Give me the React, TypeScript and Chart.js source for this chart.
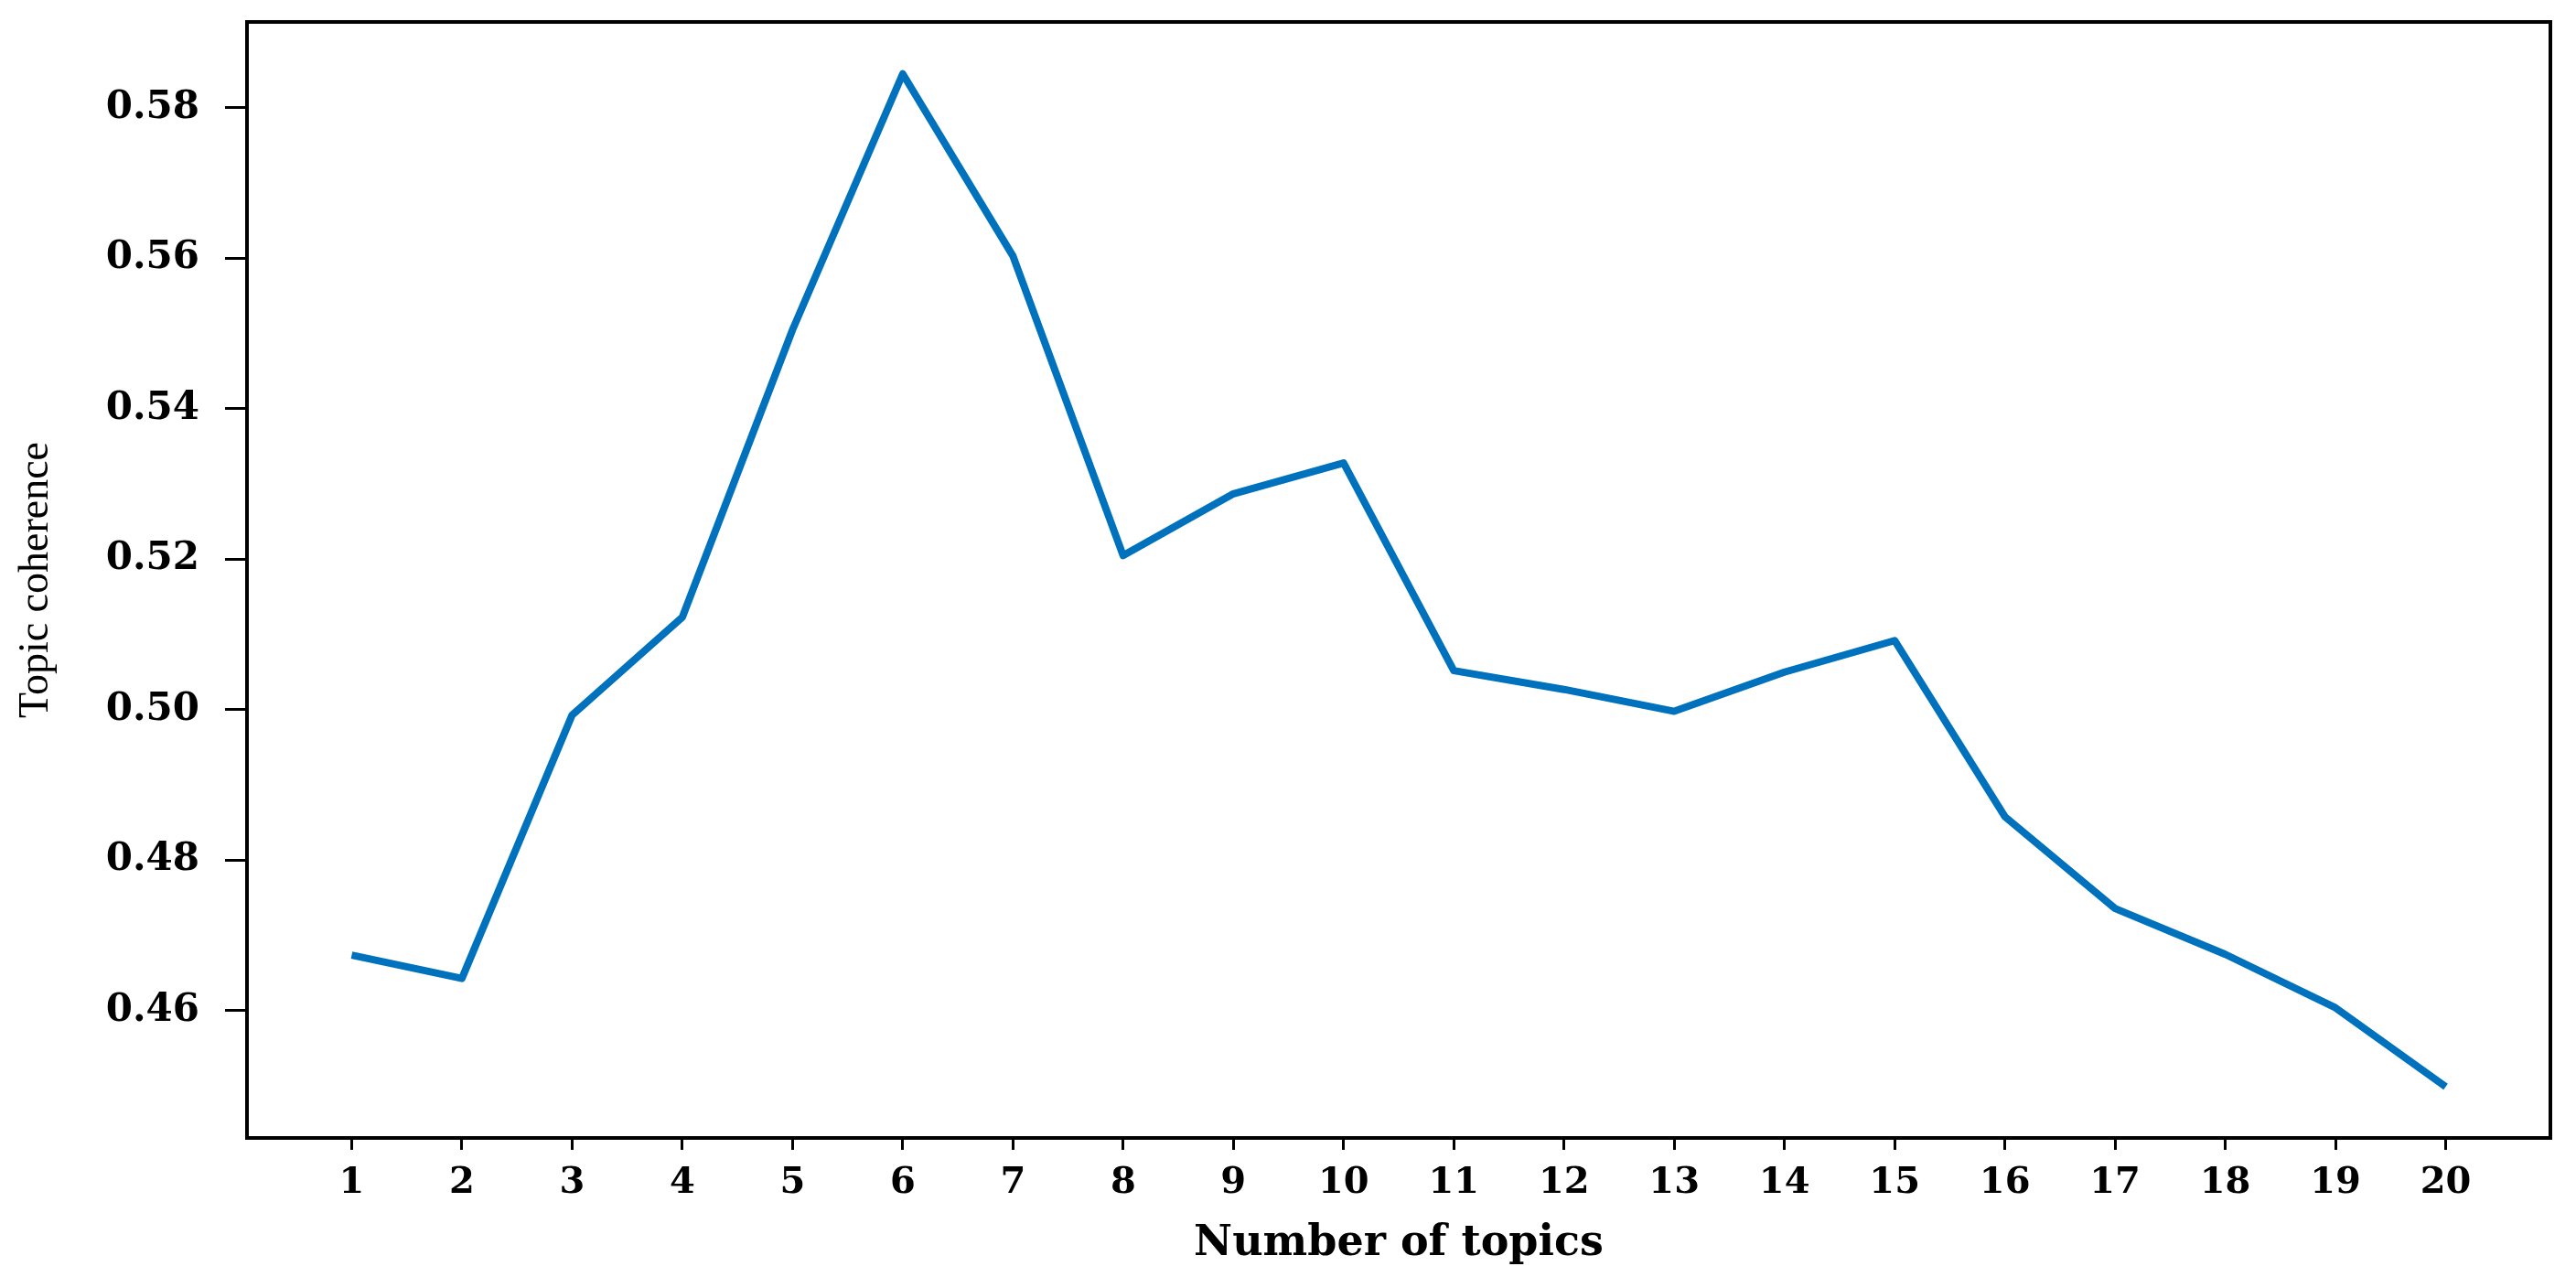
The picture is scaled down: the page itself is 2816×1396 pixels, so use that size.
import React, { useEffect, useRef } from "react";
import { Chart, registerables } from "chart.js";

Chart.register(...registerables);

const topics = [1, 2, 3, 4, 5, 6, 7, 8, 9, 10, 11, 12, 13, 14, 15, 16, 17, 18, 19, 20];
const coherence = [
  0.4674, 0.4643, 0.4993, 0.5123, 0.5505, 0.5845, 0.5603, 0.5205, 0.5287, 0.5328,
  0.5052, 0.5027, 0.4998, 0.5050, 0.5092, 0.4858, 0.4736, 0.4675, 0.4604, 0.4499,
];
const yTickValues = [0.46, 0.48, 0.5, 0.52, 0.54, 0.56, 0.58];
const xTickValues = topics;
const xLabel = "Number of topics";
const yLabel = "Topic coherence";

const W = 2816;
const H = 1396;

const boxPlugin = {
  id: "boxPlugin",
  afterDraw(chart: any) {
    const { ctx, chartArea } = chart;
    ctx.save();
    ctx.strokeStyle = "#000";
    ctx.lineWidth = 4;
    ctx.strokeRect(chartArea.left, chartArea.top, chartArea.right - chartArea.left, chartArea.bottom - chartArea.top);
    ctx.restore();
  },
};

export default function App() {
  const ref = useRef<HTMLCanvasElement | null>(null);

  useEffect(() => {
    if (!ref.current) return;
    const chart = new Chart(ref.current, {
      type: "line",
      data: {
        datasets: [
          {
            label: yLabel,
            data: topics.map((t, i) => ({ x: t, y: coherence[i] })),
            borderColor: "#0072BD",
            backgroundColor: "#0072BD",
            borderWidth: 8,
            pointRadius: 0,
            tension: 0,
            borderJoinStyle: "round",
            borderCapStyle: "butt",
          },
        ],
      },
      options: {
        responsive: false,
        animation: false,
        layout: { padding: { top: 24, right: 28, bottom: 0, left: 0 } },
        plugins: {
          legend: { display: false },
          tooltip: { enabled: false },
        },
        scales: {
          x: {
            type: "linear",
            min: 0.05,
            max: 20.95,
            afterBuildTicks: (scale: any) => {
              scale.ticks = xTickValues.map((v) => ({ value: v }));
            },
            afterFit: (scale: any) => {
              scale.height = 152;
              scale.paddingLeft = 0;
              scale.paddingRight = 0;
            },
            border: { display: false },
            grid: {
              drawOnChartArea: false,
              drawTicks: true,
              tickLength: 13,
              tickColor: "#000",
              tickWidth: 3,
              color: "#000",
            },
            ticks: {
              color: "#000",
              padding: 13,
              maxRotation: 0,
              autoSkip: false,
              font: { family: "'DejaVu Serif'", weight: "bold", size: 40 },
              callback: (v: any) => String(v),
            },
            title: {
              display: true,
              text: xLabel,
              color: "#000",
              padding: { top: 0, bottom: 8 },
              font: { family: "'DejaVu Serif'", weight: "bold", size: 46 },
            },
          },
          y: {
            type: "linear",
            min: 0.4431,
            max: 0.5914,
            afterBuildTicks: (scale: any) => {
              scale.ticks = yTickValues.map((v) => ({ value: v }));
            },
            afterFit: (scale: any) => {
              scale.width = 270;
              scale.paddingTop = 0;
              scale.paddingBottom = 0;
            },
            border: { display: false },
            grid: {
              drawOnChartArea: false,
              drawTicks: true,
              tickLength: 24,
              tickColor: "#000",
              tickWidth: 3,
              color: "#000",
            },
            ticks: {
              color: "#000",
              padding: 28,
              autoSkip: false,
              font: { family: "'DejaVu Serif'", weight: "bold", size: 42 },
              callback: (v: any) => Number(v).toFixed(2),
            },
            title: {
              display: true,
              text: yLabel,
              color: "#000",
              padding: { top: 12, bottom: 0 },
              font: { family: "'Liberation Serif'", weight: "normal", size: 46 },
            },
          },
        },
      },
      plugins: [boxPlugin],
    } as any);
    return () => chart.destroy();
  }, []);

  return (
    <div style={{ position: "absolute", left: 0, top: 0, width: W, height: H, background: "#fff" }}>
      <canvas ref={ref} width={W} height={H} style={{ display: "block", width: W, height: H }} />
    </div>
  );
}
